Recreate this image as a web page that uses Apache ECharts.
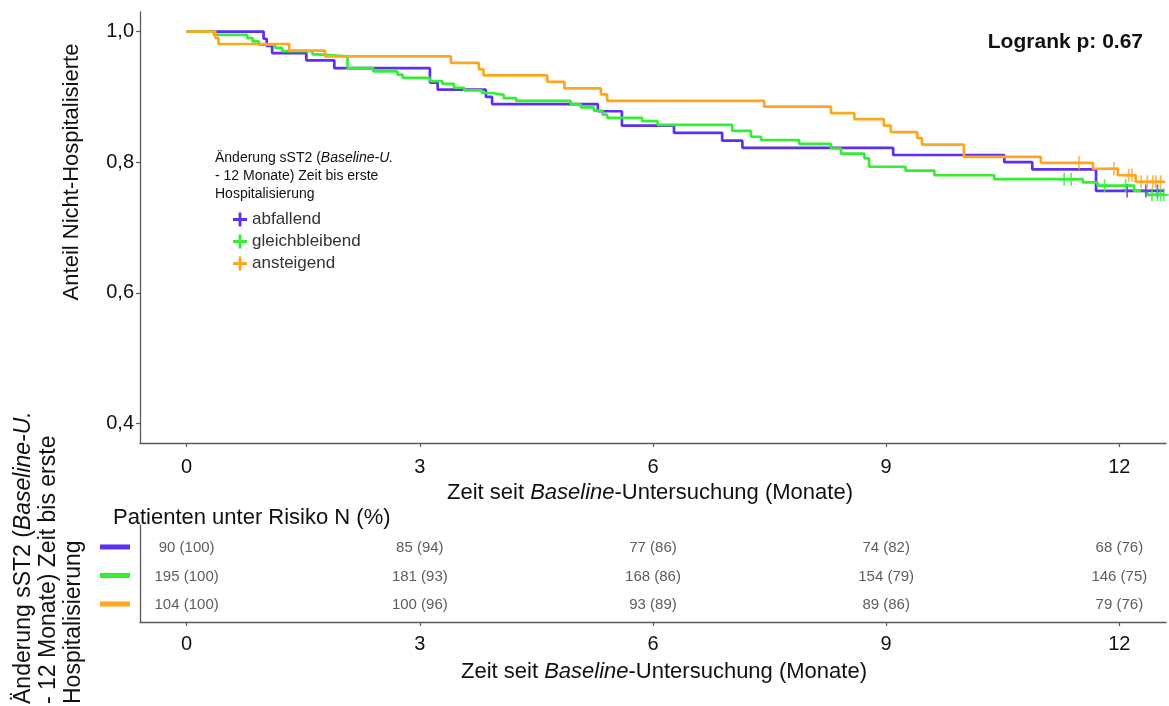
<!DOCTYPE html>
<html>
<head>
<meta charset="utf-8">
<script src="https://cdn.jsdelivr.net/npm/echarts@6/dist/echarts.min.js"></script>
<style>html,body{margin:0;padding:0;background:#fff;}#c{width:1169px;height:706px;}</style>
</head>
<body>
<div id="c"></div>
<script>
// ---------- DATA ----------
const groupNames = ['abfallend', 'gleichbleibend', 'ansteigend'];

const abfTimes = [0, 0.99, 1.03, 1.10, 1.54, 1.90, 3.13, 3.23, 3.85, 3.93, 5.29, 5.60, 6.27, 6.89, 7.15, 9.09, 10.52, 10.88, 11.70, 12.58];
const abfSurv  = [1.0, 0.989, 0.978, 0.967, 0.956, 0.944, 0.922, 0.911, 0.900, 0.889, 0.878, 0.856, 0.845, 0.833, 0.822, 0.811, 0.800, 0.789, 0.756, 0.756];
const abfCensor = [12.10, 12.34, 12.49];

const gleTimes = [0, 0.35, 0.78, 0.85, 0.93, 1.14, 1.23, 1.62, 1.68, 2.07, 2.40, 2.71, 2.78, 3.13, 3.29, 3.44, 3.57, 3.80, 3.93, 4.08, 4.24, 4.94, 5.07, 5.24, 5.35, 5.41, 5.86, 6.06, 7.02, 7.26, 7.39, 7.88, 8.29, 8.42, 8.72, 8.78, 9.25, 9.62, 10.39, 11.53, 11.72, 12.19, 12.36, 12.58];
const gleSurv  = [1.0, 0.995, 0.990, 0.985, 0.980, 0.975, 0.970, 0.965, 0.962, 0.944, 0.939, 0.934, 0.929, 0.924, 0.920, 0.914, 0.910, 0.906, 0.903, 0.898, 0.894, 0.889, 0.884, 0.879, 0.873, 0.868, 0.863, 0.857, 0.848, 0.839, 0.834, 0.828, 0.821, 0.813, 0.806, 0.793, 0.787, 0.780, 0.774, 0.769, 0.764, 0.756, 0.750, 0.750];
const gleCensor = [11.29, 11.38, 11.81, 12.08, 12.42, 12.49, 12.53, 12.57];

const ansTimes = [0, 0.37, 0.41, 1.32, 1.78, 3.40, 3.76, 3.82, 4.64, 4.86, 5.33, 5.41, 7.43, 8.29, 8.59, 8.97, 9.06, 9.40, 9.46, 10.00, 10.99, 11.66, 11.98, 12.21, 12.58];
const ansSurv  = [1.0, 0.990, 0.981, 0.971, 0.962, 0.952, 0.942, 0.933, 0.923, 0.913, 0.904, 0.894, 0.885, 0.875, 0.866, 0.856, 0.846, 0.837, 0.827, 0.808, 0.799, 0.790, 0.780, 0.770, 0.770];
const ansCensor = [11.48, 11.93, 12.12, 12.16, 12.28, 12.36, 12.43, 12.47, 12.53];

const xTicks = [0, 3, 6, 9, 12];
const yTicks = [0.4, 0.6, 0.8, 1.0];

const riskTimes = [0, 3, 6, 9, 12];
const riskAbfN = [90, 85, 77, 74, 68];
const riskAbfPct = [100, 94, 86, 82, 76];
const riskGleN = [195, 181, 168, 154, 146];
const riskGlePct = [100, 93, 86, 79, 75];
const riskAnsN = [104, 100, 93, 89, 79];
const riskAnsPct = [100, 96, 89, 86, 76];

const pValueText = 'Logrank p: 0.67';

// ---------- STYLE ----------
const FONT = '"Liberation Sans", Arial, Helvetica, sans-serif';
const COLORS = ['#5c30f2', '#33ee33', '#ffa620'];
const AXIS_COLOR = '#5a5a5a';
const PLUS_LEGEND = 'path://M5.6,0H8.4V5.6H14V8.4H8.4V14H5.6V8.4H0V5.6H5.6Z';
const PLUS_CENSOR = 'path://M5.8,0H8.2V5.8H14V8.2H8.2V14H5.8V8.2H0V5.8H5.8Z';

function stepData(times, surv) { return times.map((t, i) => [t, surv[i]]); }
function survAt(times, surv, t) {
  let v = surv[0];
  for (let i = 0; i < times.length; i++) { if (times[i] <= t) v = surv[i]; }
  return v;
}

const curves = [
  { name: groupNames[0], t: abfTimes, s: abfSurv, c: abfCensor },
  { name: groupNames[1], t: gleTimes, s: gleSurv, c: gleCensor },
  { name: groupNames[2], t: ansTimes, s: ansSurv, c: ansCensor }
];
const riskRows = [
  { row: 3, n: riskAbfN, p: riskAbfPct },
  { row: 2, n: riskGleN, p: riskGlePct },
  { row: 1, n: riskAnsN, p: riskAnsPct }
];

const series = [];
curves.forEach((g, k) => {
  series.push({
    name: g.name, type: 'line', xAxisIndex: 0, yAxisIndex: 0,
    step: 'end', showSymbol: false, symbol: 'none',
    data: stepData(g.t, g.s),
    lineStyle: { color: COLORS[k], width: 2.7 },
    itemStyle: { color: COLORS[k] },
    z: 3 + k
  });
});
curves.forEach((g, k) => {
  series.push({
    name: g.name + ' (zensiert)', type: 'scatter', xAxisIndex: 0, yAxisIndex: 0,
    symbol: PLUS_CENSOR, symbolSize: [10, 13], symbolKeepAspect: false,
    data: g.c.map(t => [t, survAt(g.t, g.s, t)]),
    itemStyle: { color: COLORS[k] },
    z: 6
  });
});
riskRows.forEach((r) => {
  series.push({
    name: 'risk' + r.row, type: 'scatter', xAxisIndex: 1, yAxisIndex: 1,
    symbolSize: 0,
    data: riskTimes.map((t, i) => [t, r.row, r.n[i] + ' (' + r.p[i] + ')']),
    label: { show: true, position: 'inside', offset: [0, 1], formatter: p => p.value[2], fontSize: 15, color: '#333', fontFamily: FONT },
    itemStyle: { color: 'transparent' }
  });
});

const xAxisCommon = {
  type: 'value', min: -0.6, max: 12.6,
  axisLine: { show: true, onZero: false, lineStyle: { color: AXIS_COLOR, width: 1.3 } },
  axisTick: { show: true, length: 4, customValues: xTicks, lineStyle: { color: AXIS_COLOR, width: 1.2 } },
  axisLabel: { customValues: xTicks, fontSize: 20, color: '#111', fontFamily: FONT },
  splitLine: { show: false }
};

const option = {
  animation: false,
  backgroundColor: '#fff',
  textStyle: { fontFamily: FONT },
  grid: [
    { left: 140, right: 3, top: 12, height: 431 },
    { left: 140, right: 3, top: 525, height: 97 }
  ],
  xAxis: [
    Object.assign({}, xAxisCommon, { gridIndex: 0, axisLabel: Object.assign({}, xAxisCommon.axisLabel, { margin: 14 }) }),
    Object.assign({}, xAxisCommon, { gridIndex: 1, axisLabel: Object.assign({}, xAxisCommon.axisLabel, { margin: 12 }) })
  ],
  yAxis: [
    {
      type: 'value', gridIndex: 0, min: 0.37, max: 1.03,
      axisLine: { show: true, onZero: false, lineStyle: { color: AXIS_COLOR, width: 1.3 } },
      axisTick: { show: true, length: 4, customValues: yTicks, lineStyle: { color: AXIS_COLOR, width: 1.2 } },
      axisLabel: { customValues: yTicks, fontSize: 20, color: '#111', margin: 6, fontFamily: FONT,
        formatter: v => v.toFixed(1).replace('.', ',') },
      splitLine: { show: false }
    },
    {
      type: 'value', gridIndex: 1, min: 0.37, max: 3.77,
      axisLine: { show: true, onZero: false, lineStyle: { color: AXIS_COLOR, width: 1.3 } },
      axisTick: { show: false },
      axisLabel: {
        customValues: riskRows.map(r => r.row), margin: 10,
        formatter: v => '{r' + v + '| }',
        rich: {
          r3: { backgroundColor: COLORS[0], width: 30, height: 5, fontSize: 4, lineHeight: 5 },
          r2: { backgroundColor: COLORS[1], width: 30, height: 5, fontSize: 4, lineHeight: 5 },
          r1: { backgroundColor: COLORS[2], width: 30, height: 5, fontSize: 4, lineHeight: 5 }
        }
      },
      splitLine: { show: false }
    }
  ],
  legend: {
    data: groupNames, orient: 'vertical', left: 228, top: 206,
    icon: PLUS_LEGEND, itemWidth: 14, itemHeight: 14, itemGap: 5,
    textStyle: { fontSize: 17, color: '#333', fontFamily: FONT }
  },
  graphic: [
    { type: 'text', x: 72, y: 172, rotation: Math.PI / 2,
      style: { text: 'Anteil Nicht-Hospitalisierte', fontSize: 22, fill: '#111', align: 'center', verticalAlign: 'middle', fontFamily: FONT } },
    { type: 'text', x: 1143, y: 42,
      style: { text: pValueText, fontSize: 21, fontWeight: 'bold', fill: '#111', align: 'right', verticalAlign: 'middle', fontFamily: FONT } },
    { type: 'text', x: 650, y: 493,
      style: { text: '{n|Zeit seit }{i|Baseline}{n|-Untersuchung (Monate)}', align: 'center', verticalAlign: 'middle',
        rich: { n: { fontSize: 22, fill: '#111', fontFamily: FONT }, i: { fontSize: 22, fill: '#111', fontStyle: 'italic', fontFamily: FONT } } } },
    { type: 'text', x: 664, y: 672,
      style: { text: '{n|Zeit seit }{i|Baseline}{n|-Untersuchung (Monate)}', align: 'center', verticalAlign: 'middle',
        rich: { n: { fontSize: 22, fill: '#111', fontFamily: FONT }, i: { fontSize: 22, fill: '#111', fontStyle: 'italic', fontFamily: FONT } } } },
    { type: 'text', x: 215, y: 149,
      style: { text: '{n|Änderung sST2 (}{i|Baseline-U.}\n{n|- 12 Monate) Zeit bis erste}\n{n|Hospitalisierung}', align: 'left', verticalAlign: 'top',
        rich: { n: { fontSize: 14, lineHeight: 18, fill: '#111', fontFamily: FONT }, i: { fontSize: 14, lineHeight: 18, fill: '#111', fontStyle: 'italic', fontFamily: FONT } } } },
    { type: 'text', x: 113, y: 518,
      style: { text: 'Patienten unter Risiko N (%)', fontSize: 22, fill: '#111', align: 'left', verticalAlign: 'middle', fontFamily: FONT } },
    { type: 'text', x: 11, y: 704, rotation: Math.PI / 2,
      style: { text: '{n|Änderung sST2 (}{i|Baseline-U.}\n{n|- 12 Monate) Zeit bis erste}\n{n|Hospitalisierung}', align: 'left', verticalAlign: 'top',
        rich: { n: { fontSize: 23, lineHeight: 25, fill: '#111', fontFamily: FONT }, i: { fontSize: 23, lineHeight: 25, fill: '#111', fontStyle: 'italic', fontFamily: FONT } } } }
  ],
  series: series
};

const chart = echarts.init(document.getElementById('c'), null, { renderer: 'canvas' });
chart.setOption(option);
</script>
</body>
</html>
